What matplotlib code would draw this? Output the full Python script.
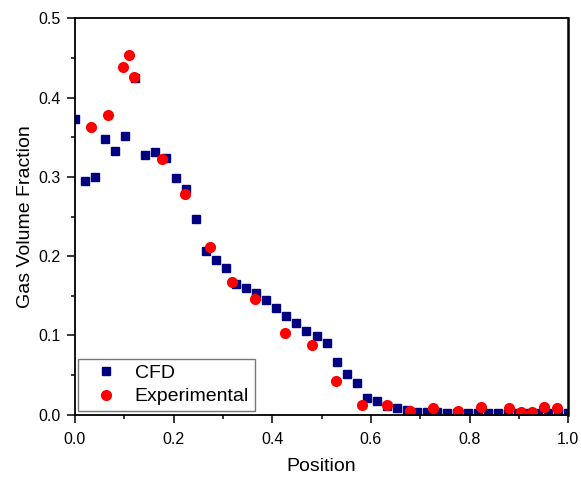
import numpy as np
import matplotlib
matplotlib.use("Agg")
import matplotlib.pyplot as plt
from matplotlib.ticker import MultipleLocator

plt.rcParams['font.family'] = ['Liberation Sans', 'DejaVu Sans']

# CFD data (evenly spaced positions 0..1, 50 points)
cfd_x = np.linspace(0, 1, 50)
cfd_y = [0.373, 0.295, 0.300, 0.348, 0.333, 0.351, 0.425, 0.327, 0.331, 0.324,
         0.299, 0.285, 0.247, 0.206, 0.195, 0.185, 0.165, 0.160, 0.154, 0.145,
         0.135, 0.125, 0.116, 0.106, 0.099, 0.091, 0.067, 0.052, 0.040, 0.021,
         0.018, 0.011, 0.009, 0.006, 0.004, 0.003, 0.003, 0.002, 0.002, 0.002,
         0.002, 0.002, 0.002, 0.002, 0.002, 0.002, 0.002, 0.002, 0.002, 0.002]

# Experimental data
exp_x = [0.032, 0.067, 0.097, 0.110, 0.120, 0.177, 0.223, 0.274, 0.318, 0.365,
         0.426, 0.481, 0.529, 0.582, 0.633, 0.680, 0.726, 0.777, 0.823, 0.880,
         0.905, 0.927, 0.951, 0.977]
exp_y = [0.363, 0.378, 0.439, 0.453, 0.426, 0.323, 0.279, 0.212, 0.168, 0.146,
         0.103, 0.088, 0.043, 0.013, 0.013, 0.005, 0.009, 0.005, 0.010, 0.009,
         0.004, 0.004, 0.010, 0.008]

fig = plt.figure(figsize=(5.81, 4.79), dpi=100)
ax = fig.add_axes([0.129, 0.134, 0.849, 0.828])

ax.plot(cfd_x, cfd_y, linestyle='none', marker='s', markersize=6.0,
        color='#000080', label='CFD')
ax.plot(exp_x, exp_y, linestyle='none', marker='o', markersize=7.0,
        color='#ff0000', label='Experimental')

ax.set_xlim(0, 1)
ax.set_ylim(0, 0.5)
ax.xaxis.set_major_locator(MultipleLocator(0.2))
ax.xaxis.set_minor_locator(MultipleLocator(0.1))
ax.yaxis.set_major_locator(MultipleLocator(0.1))
ax.yaxis.set_minor_locator(MultipleLocator(0.05))
ax.xaxis.set_major_formatter(plt.FormatStrFormatter('%.1f'))
ax.yaxis.set_major_formatter(plt.FormatStrFormatter('%.1f'))
ax.tick_params(which='both', direction='out', top=False, right=False,
               labelsize=11.5, width=1.1)
ax.tick_params(which='major', length=5.5, pad=5)
ax.tick_params(axis='x', which='major', pad=7)
ax.tick_params(which='minor', length=3)
for s in ax.spines.values():
    s.set_linewidth(1.3)
ax.spines['right'].set_linewidth(1.8)

ax.set_xlabel('Position', fontsize=14, labelpad=8)
ax.set_ylabel('Gas Volume Fraction', fontsize=14, labelpad=3)

leg = ax.legend(loc='lower left', fontsize=14, frameon=True, fancybox=False,
                edgecolor='#555555', borderaxespad=0.18, handletextpad=0.4,
                borderpad=0.3, labelspacing=0.3, handlelength=2.2)
leg.get_frame().set_linewidth(1.0)

fig.savefig('out.png', dpi=100)
